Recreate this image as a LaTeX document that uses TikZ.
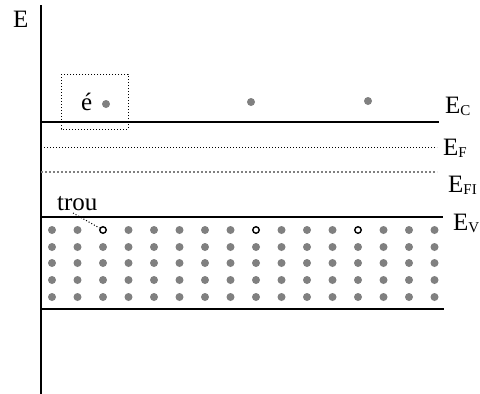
\documentclass[tikz,border=0pt]{standalone}
\usepackage{fontspec}
\setmainfont{Liberation Serif}
\begin{document}
\begin{tikzpicture}[x=1pt,y=-1pt,
  lbl/.style={anchor=base west,inner sep=0pt,font=\fontsize{25}{25}\selectfont},
  band/.style={line width=1.5pt,black},
  fermi/.style={line width=1pt,dash pattern=on 1pt off 2pt,black},
  fermii/.style={line width=1.3pt,dash pattern=on 2pt off 2pt,gray},
  electron/.style={circle,fill=gray,draw=none,minimum size=8pt,inner sep=0pt},
  hole/.style={circle,fill=white,draw=black,line width=1.4pt,minimum size=6.5pt,inner sep=0pt},
  boxdot/.style={line width=1pt,dash pattern=on 1pt off 2pt,black}]
\useasboundingbox (0,0) rectangle (480,394);
\newcommand{\sbs}[1]{\raisebox{-2.5pt}{\fontsize{15}{15}\selectfont #1}}
% axis
\coordinate (atop) at (41,5);
\coordinate (abot) at (41,394);
\draw[line width=2pt] (atop) -- (abot);
\node[lbl] (E) at (13,27) {E};
% levels
\coordinate (c1) at (41,122); \coordinate (c2) at (439,122);
\coordinate (f1) at (41,147); \coordinate (f2) at (437,147);
\coordinate (i1) at (41,172); \coordinate (i2) at (437,172);
\coordinate (v1) at (41,217); \coordinate (v2) at (443,217);
\coordinate (b1) at (41,309); \coordinate (b2) at (444,309);
\draw[band] (c1) -- (c2);
\draw[fermi] (f1) -- (f2);
\draw[fermii] (i1) -- (i2);
\draw[band] (v1) -- (v2);
\draw[band] (b1) -- (b2);
\node[lbl] (EC) at (445,113) {E\sbs{C}};
\node[lbl] (EF) at (443,155) {E\sbs{F}};
\node[lbl] (EFI) at (448,192) {E\sbs{FI}};
\node[lbl] (EV) at (453,230) {E\sbs{V}};
% conduction electrons
\node[electron] (e1) at (106,104) {};
\node[electron] (e2) at (251,102) {};
\node[electron] (e3) at (368,101) {};
\node[lbl] (eacc) at (81,110) {é};
\draw[boxdot] (61,74) rectangle (128,129);
% valence band
\foreach \r [count=\ri] in {230,247,263,280,297}{
  \foreach \c in {0,...,15}{
    \pgfmathsetmacro{\xx}{52+25.5*\c}
    \ifnum\ri=1
      \ifnum\c=2 \else\ifnum\c=8 \else\ifnum\c=12 \else
        \node[electron] (v\ri-\c) at (\xx,\r) {};
      \fi\fi\fi
    \else
      \node[electron] (v\ri-\c) at (\xx,\r) {};
    \fi
  }
}
\node[hole] (h1) at (103,230) {};
\node[hole] (h2) at (256,230) {};
\node[hole] (h3) at (358,230) {};
\node[lbl] (trou) at (57,210) {trou};
\coordinate (tstart) at (73,213);
\draw[boxdot] (tstart) -- (h1);
\end{tikzpicture}
\end{document}
